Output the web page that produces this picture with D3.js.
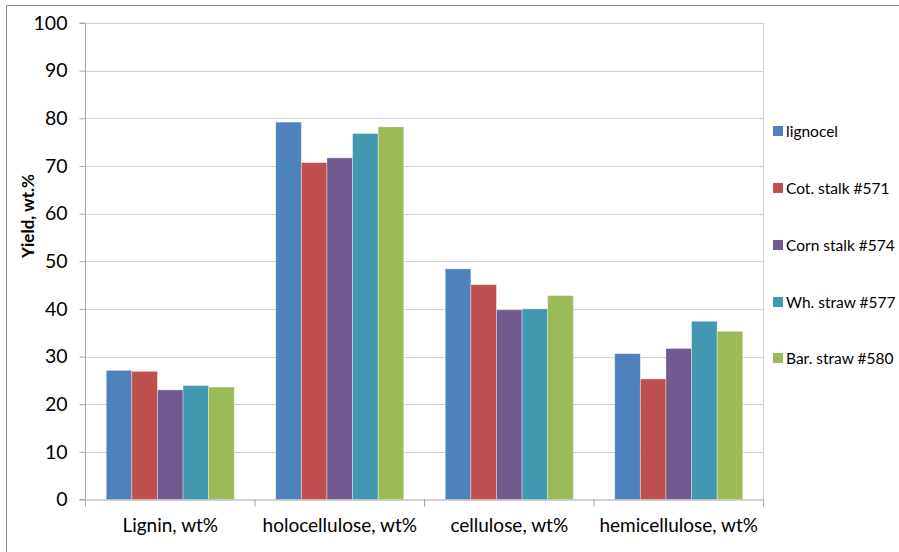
<!DOCTYPE html>
<html><head><meta charset="utf-8">
<script src="https://cdn.jsdelivr.net/npm/d3@7"></script>
<style>body{margin:0;background:#fff;} svg{display:block;font-family:Lato,"Open Sans",sans-serif;}</style>
</head><body>
<svg id="c" width="899" height="552"></svg>
<script>
const categories = ["Lignin, wt%", "holocellulose, wt%", "cellulose, wt%", "hemicellulose, wt%"];
const seriesNames = ["lignocel", "Cot. stalk #571", "Corn stalk #574", "Wh. straw #577", "Bar. straw #580"];
const seriesColors = ["#4F81BD", "#C0504D", "#72598F", "#4298B0", "#9BBB59"];
const lignocel = [27.1, 79.2, 48.4, 30.6];
const cotStalk = [26.9, 70.7, 45.1, 25.3];
const cornStalk = [23.0, 71.7, 39.8, 31.7];
const whStraw = [23.9, 76.8, 40.0, 37.4];
const barStraw = [23.6, 78.2, 42.8, 35.3];
const seriesValues = [lignocel, cotStalk, cornStalk, whStraw, barStraw];
const yTicks = [0,10,20,30,40,50,60,70,80,90,100];

const svg = d3.select("#c");
const L = 85.5, R = 763.5, T = 23, B = 499.5;

// outer chart border
svg.append("path").attr("d", `M6.5,552 V5.5 H899`).attr("fill","none").attr("stroke","#8c8c8c").attr("stroke-width",1);

const x = d3.scaleBand().domain(categories).range([L, R]).paddingInner(0).paddingOuter(0);
const xs = d3.scaleBand().domain(d3.range(seriesNames.length)).range([0, x.bandwidth()]).paddingInner(0).paddingOuter(0.81);
const y = d3.scaleLinear().domain([0,100]).range([B, T]);

// gridlines
svg.append("g").selectAll("line").data(yTicks.slice(1)).join("line")
  .attr("x1", L).attr("x2", R).attr("y1", d=>Math.round(y(d))+0.5).attr("y2", d=>Math.round(y(d))+0.5)
  .attr("stroke","#d0d0d0").attr("stroke-width",1);
// right border of plot
svg.append("line").attr("x1",R).attr("x2",R).attr("y1",T).attr("y2",B).attr("stroke","#d0d0d0");

// bars
const g = svg.append("g");
seriesValues.forEach((vals, si) => {
  g.append("g").selectAll("rect").data(vals).join("rect")
    .attr("x", (d,i)=> x(categories[i]) + xs(si))
    .attr("width", xs.bandwidth())
    .attr("y", d=>y(d))
    .attr("height", d=>B - y(d))
    .attr("fill", seriesColors[si])
    .attr("stroke", "rgba(255,255,255,0.45)").attr("stroke-width", 0.8);
});

// y axis
const ya = svg.append("g").attr("transform", `translate(${L},0)`)
  .call(d3.axisLeft(y).tickValues(yTicks).tickSize(6).tickPadding(12));
ya.select(".domain").attr("stroke","#a6a6a6").attr("d", `M-6,${B}H0V${T}H-6`);
ya.selectAll(".tick line").attr("stroke","#a6a6a6");
ya.selectAll(".tick text").attr("font-size",19.5).attr("fill","#000").attr("font-family","Lato,sans-serif");

// x axis
const xa = svg.append("g").attr("transform", `translate(0,${B})`)
  .call(d3.axisBottom(x).tickSize(0).tickPadding(19));
xa.select(".domain").attr("stroke","#a6a6a6");
xa.selectAll(".tick text").attr("font-size",19).attr("fill","#000").attr("font-family","Lato,sans-serif");
svg.append("g").selectAll("line").data(d3.range(categories.length+1)).join("line")
  .attr("x1", i=>L + i*x.step()).attr("x2", i=>L + i*x.step())
  .attr("y1", B).attr("y2", B+7).attr("stroke","#a6a6a6");

// y title
svg.append("text").attr("transform","translate(34,216) rotate(-90)").attr("text-anchor","middle")
  .attr("font-size",17).attr("font-weight","bold").text("Yield, wt.%");

// legend
const leg = svg.append("g");
const legY = [131, 188, 245, 302, 358];
seriesNames.forEach((n,i)=>{
  leg.append("rect").attr("x",773).attr("y",legY[i]-5).attr("width",10).attr("height",10).attr("fill",seriesColors[i]);
  leg.append("text").attr("x",786).attr("y",legY[i]+6).attr("font-size",15.5).text(n);
});
</script>
</body></html>
